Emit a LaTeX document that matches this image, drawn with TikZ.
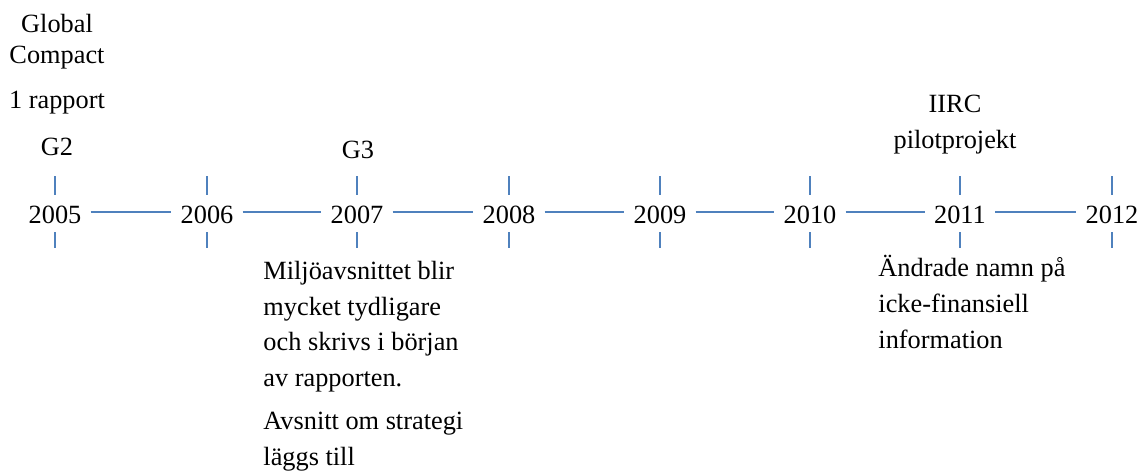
\documentclass[tikz,border=0pt]{standalone}
\usepackage{fontspec}
\setmainfont{Liberation Serif}
\usepackage{tikz}
\usetikzlibrary{positioning}
\definecolor{tlblue}{HTML}{4F81BD}
\tikzset{
  year/.style={inner sep=0pt, anchor=base, font=\fontsize{12}{14}\selectfont},
  note/.style={inner sep=0pt, align=left, anchor=base west, font=\fontsize{12}{16.2}\selectfont},
  head/.style={inner sep=0pt, align=center, anchor=base, font=\fontsize{12}{14}\selectfont},
  tick/.style={tlblue, line width=1pt},
  span/.style={tlblue, line width=1pt, shorten <=4pt, shorten >=4pt}
}

\begin{document}
\begin{tikzpicture}[x=0.456pt,y=-0.456pt]
\useasboundingbox (0,0) rectangle (1146,473);
% years on the time line
\foreach \yr/\xx in {2005/55,2006/207,2007/357,2008/509,2009/660,2010/810,2011/960,2012/1112} {
  \node[year] (y\yr) at (\xx,223) {\yr};
  \coordinate (t\yr a) at (\xx,176);
  \coordinate (t\yr b) at (\xx,195);
  \coordinate (b\yr a) at (\xx,232);
  \coordinate (b\yr b) at (\xx,248);
  \draw[tick] (t\yr a) -- (t\yr b);
  \draw[tick] (b\yr a) -- (b\yr b);
}
\foreach \a/\b in {2005/2006,2006/2007,2007/2008,2008/2009,2009/2010,2010/2011,2011/2012} {
  \draw[span] ([yshift=1pt]y\a.east) -- ([yshift=1pt]y\b.west);
}
% above the line (base = last line)
\node[head, font=\fontsize{12}{13.8}\selectfont] (gc) at (57,63) {Global\\Compact};
\node[head] (rap) at (57,108) {1 rapport};
\node[head] (g2) at (57,155) {G2};
\node[head] (g3) at (358,158) {G3};
\node[head, font=\fontsize{12}{16.4}\selectfont] (iirc) at (955,148) {IIRC\\pilotprojekt};
% below the line
\node[note] (milj) at (263,465) {Milj\"oavsnittet blir\\mycket tydligare\\och skrivs i b\"orjan\\av rapporten.\\[3.4pt]Avsnitt om strategi\\l\"aggs till};
\node[note] (namn) at (878,348) {\"Andrade namn p\aa\\icke-finansiell\\information};
\end{tikzpicture}
\end{document}
